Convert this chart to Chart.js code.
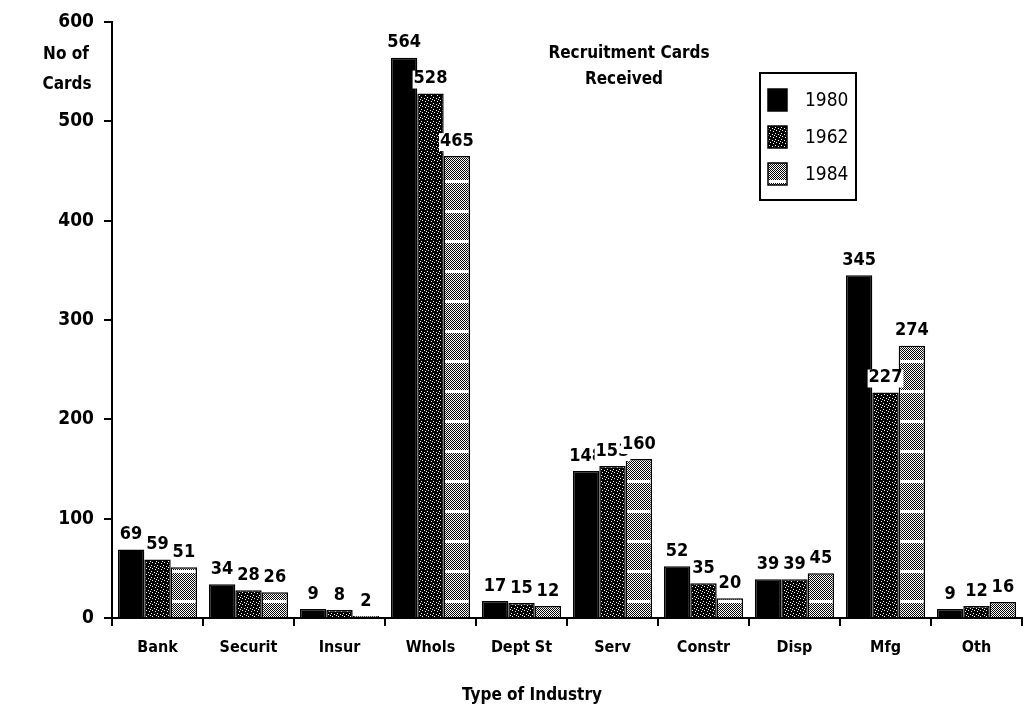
<!DOCTYPE html>
<html>
<head>
<meta charset="utf-8">
<script src="https://cdn.jsdelivr.net/npm/chart.js@4"></script>
<style>
  body { margin: 0; background: #fff; }
  #chart { display: block; }
</style>
</head>
<body>
<canvas id="chart" width="1030" height="717"></canvas>
<script>
// data
const categories = ['Bank', 'Securit', 'Insur', 'Whols', 'Dept St', 'Serv', 'Constr', 'Disp', 'Mfg', 'Oth'];
const years = ['1980', '1962', '1984'];
const cards1980 = [69, 34, 9, 564, 17, 148, 52, 39, 345, 9];
const cards1962 = [59, 28, 8, 528, 15, 153, 35, 39, 227, 12];
const cards1984 = [51, 26, 2, 465, 12, 160, 20, 45, 274, 16];
const yMax = 600;
const yStep = 100;

const FONT = "'DejaVu Sans Condensed', 'Liberation Sans Narrow', 'DejaVu Sans', sans-serif";

// fill patterns like the old printer shading
function dotPattern() {
  const c = document.createElement('canvas');
  c.width = 6; c.height = 6;
  const g = c.getContext('2d');
  g.fillStyle = '#000';
  g.fillRect(0, 0, 6, 6);
  g.fillStyle = '#fff';
  [[1, 1], [4, 2], [2, 4], [5, 5], [0, 3]].forEach(p => g.fillRect(p[0], p[1], 1, 1));
  return g.createPattern(c, 'repeat');
}

function meshPattern() {
  const c = document.createElement('canvas');
  c.width = 8; c.height = 30;
  const g = c.getContext('2d');
  g.fillStyle = '#fff';
  g.fillRect(0, 0, 8, 30);
  g.fillStyle = '#000';
  for (let y = 3; y < 30; y++) {
    for (let x = 0; x < 8; x++) {
      if ((x + y) % 2 === 0) g.fillRect(x, y, 1, 1);
    }
  }
  return g.createPattern(c, 'repeat');
}

const fills = ['#000', dotPattern(), meshPattern()];
const series = [cards1980, cards1962, cards1984];

// value labels on white boxes, later series paint over earlier ones
const valueLabels = {
  id: 'valueLabels',
  afterDatasetsDraw(chart) {
    const ctx = chart.ctx;
    ctx.save();
    ctx.font = 'bold 18px ' + FONT;
    ctx.textAlign = 'center';
    ctx.textBaseline = 'bottom';
    chart.data.datasets.forEach((ds, i) => {
      chart.getDatasetMeta(i).data.forEach((bar, j) => {
        const txt = String(ds.data[j]);
        const w = ctx.measureText(txt).width;
        const y = bar.y - 6;
        ctx.fillStyle = '#fff';
        ctx.fillRect(bar.x - w / 2 - 1, y - 17, w + 2, 18);
        ctx.fillStyle = '#000';
        ctx.fillText(txt, bar.x, y);
      });
    });
    ctx.restore();
  }
};

// titles and legend box drawn into the plot
const decorations = {
  id: 'decorations',
  afterDraw(chart) {
    const ctx = chart.ctx;
    ctx.save();
    ctx.fillStyle = '#000';
    ctx.textAlign = 'center';
    ctx.textBaseline = 'middle';
    ctx.font = 'bold 17px ' + FONT;
    ctx.fillText('Recruitment Cards', 629, 54);
    ctx.fillText('Received', 624, 80);
    ctx.fillText('No of', 66, 55);
    ctx.fillText('Cards', 67, 85);
    ctx.fillText('Type of Industry', 532, 696);

    // legend
    ctx.lineWidth = 2;
    ctx.strokeStyle = '#000';
    ctx.strokeRect(760, 73, 96, 127);
    ctx.font = '19px ' + FONT;
    ctx.textAlign = 'left';
    chart.data.datasets.forEach((ds, i) => {
      const cy = 100 + i * 37;
      ctx.fillStyle = ds.backgroundColor;
      ctx.fillRect(768, cy - 11, 19, 22);
      ctx.lineWidth = 1.5;
      ctx.strokeRect(768, cy - 11, 19, 22);
      ctx.fillStyle = '#000';
      ctx.fillText(ds.label, 805, cy + 1);
    });
    ctx.restore();
  }
};

new Chart(document.getElementById('chart'), {
  type: 'bar',
  data: {
    labels: categories,
    datasets: years.map((yr, i) => ({
      label: yr,
      data: series[i],
      backgroundColor: fills[i],
      borderColor: '#000',
      borderWidth: 1.5,
      categoryPercentage: 0.87,
      barPercentage: 1.0
    }))
  },
  options: {
    responsive: false,
    animation: false,
    layout: { padding: { top: 22, right: 8, left: 0, bottom: 0 } },
    plugins: {
      legend: { display: false },
      tooltip: { enabled: false }
    },
    scales: {
      x: {
        grid: { offset: true, drawOnChartArea: false, tickLength: 8, color: '#000', lineWidth: 2 },
        border: { color: '#000', width: 2 },
        ticks: { color: '#000', padding: 12, font: { family: FONT, size: 16, weight: 'bold' } },
        afterFit(scale) { scale.height = 99; }
      },
      y: {
        min: 0,
        max: yMax,
        grid: { drawOnChartArea: false, tickLength: 8, color: '#000', lineWidth: 2 },
        border: { color: '#000', width: 2 },
        ticks: { stepSize: yStep, color: '#000', padding: 10, font: { family: FONT, size: 19, weight: 'bold' } },
        afterFit(scale) { scale.width = 112; }
      }
    }
  },
  plugins: [valueLabels, decorations]
});
</script>
</body>
</html>
